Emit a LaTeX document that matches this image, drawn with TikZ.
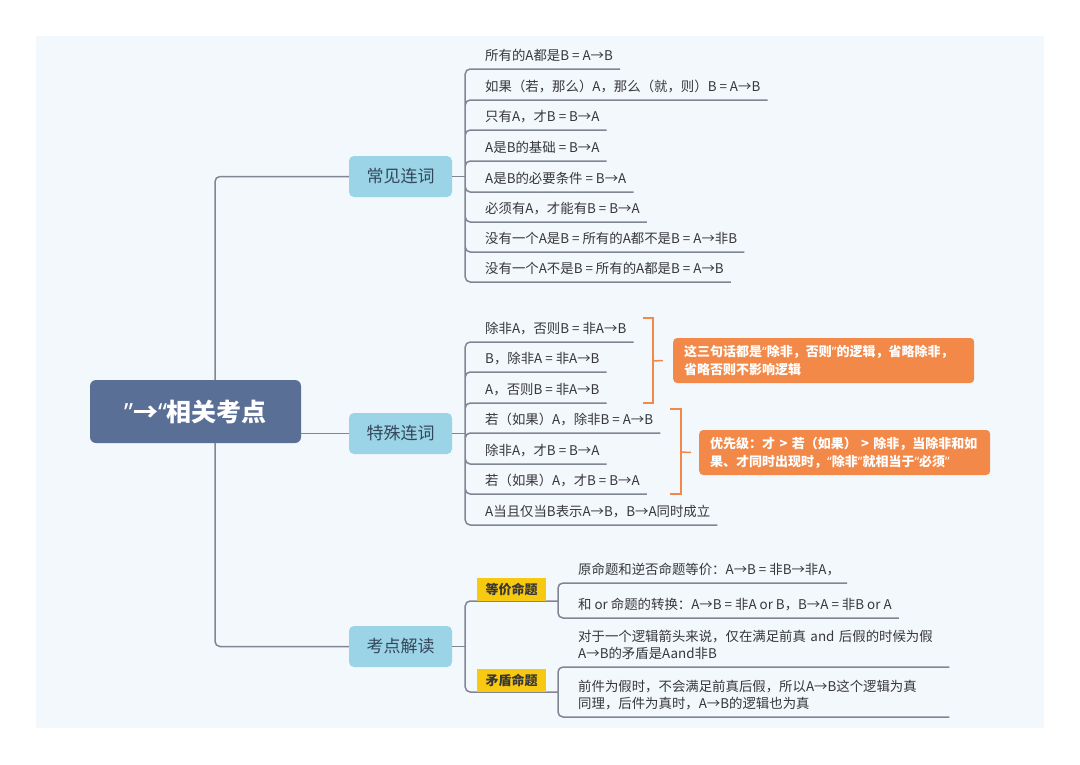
\documentclass[tikz,border=0pt]{standalone}
\usepackage{fontspec}
\setmainfont{Noto Sans CJK SC}
\newfontfamily\quotefont{Noto Sans}
\newcommand{\qopen}{{\quotefont “}}
\newcommand{\qclose}{{\quotefont ”}}
\usetikzlibrary{calc}
\definecolor{bgcol}{RGB}{243,248,252}
\definecolor{rootcol}{RGB}{90,111,150}
\definecolor{branchcol}{RGB}{155,212,230}
\definecolor{branchtext}{RGB}{52,70,90}
\definecolor{linecol}{RGB}{128,134,148}
\definecolor{leaftext}{RGB}{55,55,60}
\definecolor{notecol}{RGB}{242,137,73}
\definecolor{tagcol}{RGB}{247,201,16}

\begin{document}
\begin{tikzpicture}[x=1pt, y=-1pt,
  link/.style={draw=linecol, line width=1.5pt, rounded corners=5pt},
  bracket/.style={draw=notecol, line width=1.5pt},
  topic/.style={fill=rootcol, text=white, rounded corners=6pt,
    minimum width=211pt, minimum height=63pt,
    font=\fontsize{25}{28}\selectfont\bfseries},
  branchbox/.style={fill=branchcol, text=branchtext, rounded corners=5pt,
    minimum width=103pt, minimum height=41pt,
    font=\fontsize{17}{20}\selectfont},
  leafnode/.style={anchor=south west, inner xsep=7pt, inner ysep=5pt,
    text height=10pt, text depth=3pt, align=left, text=leaftext,
    font=\fontsize{13.4}{17}\selectfont},
  twoline/.style={text depth=20pt},
  notebox/.style={fill=notecol, text=white, rounded corners=4pt, anchor=west,
    align=left, inner xsep=11pt, minimum height=45pt,
    font=\fontsize{13}{18}\selectfont\bfseries},
  tagbox/.style={fill=tagcol, text=leaftext, anchor=south west,
    minimum width=69pt, minimum height=23pt, inner sep=0pt,
    font=\fontsize{13}{15}\selectfont\bfseries}]

  % Canvas
  \useasboundingbox (0,0) rectangle (1080,764);
  \fill[bgcol] (36,36) rectangle (1044,728);

  % Central topic and main branches
  \node[topic] (root) at (195.5,411.5) {\qclose{}→\qopen{}相关考点};
  \node[branchbox] (b1) at (400.5,176.5) {常见连词};
  \node[branchbox] (b2) at (400.5,433.5) {特殊连词};
  \node[branchbox] (b3) at (400.5,646.5) {考点解读};
  \coordinate (s0) at (215,411.5);
  \draw[link] (root.north -| s0) |- (b1.west);
  \draw[link] (root.south -| s0) |- (b3.west);
  \draw[link] (root.east |- b2.west) -- (b2.west);

  % Common connectives
  \node[leafnode] (a1) at (478,69) {所有的A都是B = A→B};
  \node[leafnode] (a2) at (478,100) {如果（若，那么）A，那么（就，则）B = A→B};
  \node[leafnode] (a3) at (478,130) {只有A，才B = B→A};
  \node[leafnode] (a4) at (478,161) {A是B的基础 = B→A};
  \node[leafnode] (a5) at (478,192) {A是B的必要条件 = B→A};
  \node[leafnode] (a6) at (478,222) {必须有A，才能有B = B→A};
  \node[leafnode] (a7) at (478,252) {没有一个A是B = 所有的A都不是B = A→非B};
  \node[leafnode] (a8) at (478,282) {没有一个A不是B = 所有的A都是B = A→B};
  \coordinate (s1) at ($(b1.east)+(13,0)$);
  \draw[link] (b1.east) -- (s1);
  \draw[link] (s1) |- (a1.south east) (s1) |- (a2.south east)
    (s1) |- (a3.south east) (s1) |- (a4.south east)
    (s1) |- (a5.south east) (s1) |- (a6.south east)
    (s1) |- (a7.south east) (s1) |- (a8.south east);

  % Special connectives
  \node[leafnode] (c1) at (478,342) {除非A，否则B = 非A→B};
  \node[leafnode] (c2) at (478,372) {B，除非A = 非A→B};
  \node[leafnode] (c3) at (478,403) {A，否则B = 非A→B};
  \node[leafnode] (c4) at (478,433) {若（如果）A，除非B = A→B};
  \node[leafnode] (c5) at (478,464) {除非A，才B = B→A};
  \node[leafnode] (c6) at (478,494) {若（如果）A，才B = B→A};
  \node[leafnode] (c7) at (478,525) {A当且仅当B表示A→B，B→A同时成立};
  \coordinate (s2) at ($(b2.east)+(13,0)$);
  \draw[link] (b2.east) -- (s2);
  \draw[link] (s2) |- (c1.south east) (s2) |- (c2.south east)
    (s2) |- (c3.south east) (s2) |- (c4.south east)
    (s2) |- (c5.south east) (s2) |- (c6.south east)
    (s2) |- (c7.south east);

  % Brackets and notes
  \node[notebox, text width=279pt] (o1) at (673,360.5)
    {这三句话都是\qopen{}除非，否则\qclose{}的逻辑，省略除非，\\省略否则不影响逻辑};
  \node[notebox, text width=269pt] (o2) at (699,452.5)
    {优先级：才 > 若（如果） > 除非，当除非和如\\果、才同时出现时，\qopen{}除非\qclose{}就相当于\qopen{}必须\qclose{}};
  \draw[bracket] (643,318) -- (653,318) -- (653,403) -- (643,403);
  \draw[bracket] (653,361) -- ([xshift=-10pt]o1.west);
  \draw[bracket] (670,409) -- (681,409) -- (681,494) -- (670,494);
  \draw[bracket] (681,452) -- ([xshift=-8pt]o2.west);

  % Reading the test points
  \coordinate (s3) at ($(b3.east)+(13,0)$);
  \coordinate (t1) at (558,601);
  \coordinate (t2) at (558,692);
  \draw[link] (b3.east) -- (s3);
  \draw[link] (s3) |- (t1) (s3) |- (t2);
  \node[tagbox] (y1) at (477,601) {等价命题};
  \node[tagbox] (y2) at (477,692) {矛盾命题};
  \node[leafnode] (e1) at (571,583) {原命题和逆否命题等价：A→B = 非B→非A，};
  \node[leafnode] (e2) at (571,618) {和 or 命题的转换：A→B = 非A or B，B→A = 非B or A};
  \node[leafnode, twoline, text width=364pt] (e3) at (571,667)
    {对于一个逻辑箭头来说，仅在满足前真 and 后假的时候为假\\A→B的矛盾是Aand非B};
  \node[leafnode, twoline, text width=364pt] (e4) at (571,717)
    {前件为假时，不会满足前真后假，所以A→B这个逻辑为真\\同理，后件为真时，A→B的逻辑也为真};
  \draw[link] (t1) |- (e1.south east) (t1) |- (e2.south east);
  \draw[link] (t2) |- (e3.south east) (t2) |- (e4.south east);
\end{tikzpicture}
\end{document}
